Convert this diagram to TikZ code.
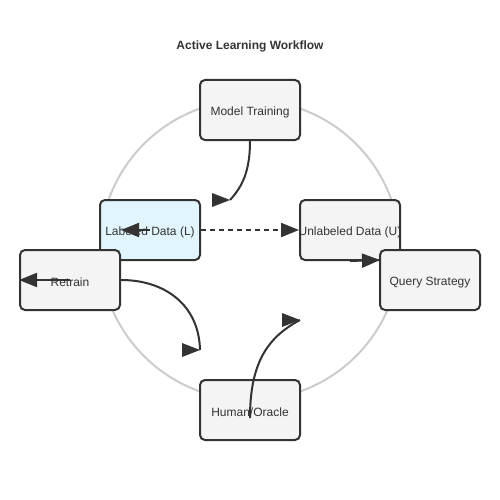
\documentclass[tikz,border=0pt]{standalone}
\usepackage{fontspec}
\setmainfont{Liberation Sans}
\usetikzlibrary{arrows.meta}
\definecolor{ink}{HTML}{333333}
\definecolor{boxgrey}{HTML}{F4F4F4}
\definecolor{boxblue}{HTML}{E1F5FE}
\definecolor{ringgrey}{HTML}{CCCCCC}
\tikzset{
	box/.style={draw=ink,line width=2pt,rounded corners=5pt,fill=boxgrey,inner sep=0pt,
		minimum width=100pt,minimum height=60pt},
	every label/.style={text=ink,font=\fontsize{12}{14}\selectfont,inner sep=0pt,yshift=-2.5pt},
	flow/.style={draw=ink,line width=2pt},
	headR/.pic={\fill[ink] (0,0)--(-18,-7)--(-18,7)--cycle;},
}
\begin{document}
\begin{tikzpicture}[x=1pt,y=-1pt,>={Triangle[length=18pt,width=14pt]}]
	\useasboundingbox (0,0) rectangle (500,500);
	\draw[ringgrey,line width=2pt] (250,250) circle (150pt);
	\node[text=ink,font=\bfseries\fontsize{12}{14}\selectfont] (title) at (250,46.5) {Active Learning Workflow};
	% the six steps
	\node[box,label=center:{Model Training}] (mt) at (250,110) {};
	\node[box,fill=boxblue,label=center:{Labeled Data (L)}] (ld) at (150,230) {};
	\node[box,label=center:{Unlabeled Data (U)}] (ud) at (350,230) {};
	\node[box,label=center:{Query Strategy}] (qs) at (430,280) {};
	\node[box,label=center:{Human/Oracle}] (ho) at (250,410) {};
	\node[box,label=center:{Retrain}] (re) at (70,280) {};
	% free ends
	\coordinate (a1) at (230,200);
	\coordinate (c1) at (380,260);
	\coordinate (d0) at (250,418);
	\coordinate (d1) at (300,320);
	\coordinate (e1) at (200,350);
	\coordinate (g1) at (121,230);
	% connectors
	\draw[flow] (mt.south) .. controls (250,170) and (243,186) .. (a1);
	\pic at (a1) {headR};
	\draw[flow,dash pattern=on 5pt off 4pt,->] (ld.east)--(ud.west);
	\draw[flow,->] (ud.south)--(c1);
	\draw[flow] (d0) .. controls (250,365) and (266,338) .. (d1);
	\pic at (d1) {headR};
	\draw[flow] (re.east) .. controls (165,280) and (199,305) .. (e1);
	\pic at (e1) {headR};
	\draw[flow,->] (re.center)--(re.west);
	\draw[flow,->] (ld.center)--(g1);
\end{tikzpicture}
\end{document}
